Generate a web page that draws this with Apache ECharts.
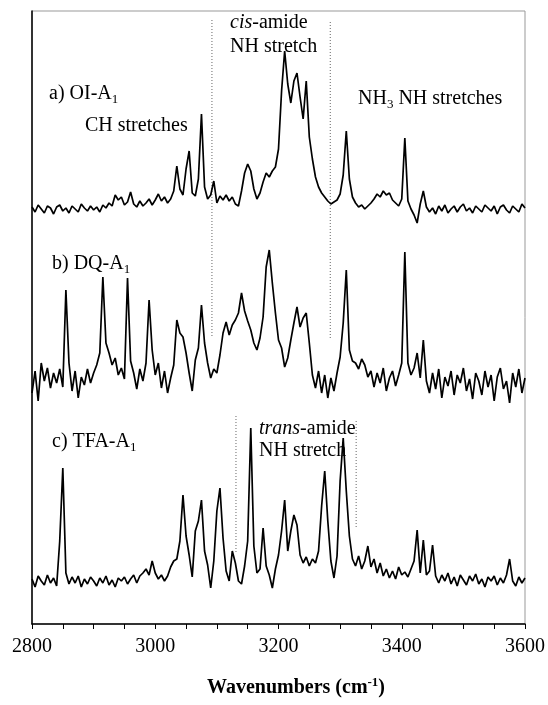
<!DOCTYPE html>
<html>
<head>
<meta charset="utf-8">
<script src="https://cdn.jsdelivr.net/npm/echarts@6/dist/echarts.min.js"></script>
<style>
  html, body { margin: 0; padding: 0; background: #fff; }
  #chart { width: 548px; height: 705px; }
</style>
</head>
<body>
<div id="chart"></div>
<script>
// spectra sampled every 5 cm-1 from 2800 to 3600
const wnStart = 2800;
const wnStep = 5;

// a) OI-A1, intensity above its own baseline (arb. units)
const oiA1 = [
  2, -3, 4, 0, -4, 3, 1, -5, 2, 4, -2, 1, -4, 3, 0, -3, 5, 1, -2, 3,
  -1, 2, -3, 4, 1, 6, 3, 14, 9, 12, 4, 7, 17, 5, 2, 8, 3, 6, 10, 4,
  9, 15, 8, 12, 6, 10, 18, 43, 20, 14, 40, 58, 16, 13, 30, 95, 22, 10, 14, 28,
  6, 13, 9, 14, 8, 12, 5, 3, 18, 36, 45, 38, 20, 10, 16, 27, 36, 32, 38, 42,
  60, 118, 158, 125, 106, 128, 136, 112, 90, 128, 72, 50, 32, 22, 16, 12, 8, 5, 7, 9,
  15, 34, 78, 30, 12, 6, 2, 4, 0, 3, 6, 10, 15, 12, 18, 14, 16, 9, 6, 3,
  10, 71, 8, 0, -6, -14, 5, 18, 2, -3, 1, -5, 3, -2, 4, -4, 0, 3, -3, 2,
  5, -2, 1, -4, 3, 0, -3, 4, 1, -2, 3, -5, 2, 4, -1, -4, 3, 0, -3, 5,
  1
];

// b) DQ-A1
const dqA1 = [
  -10, 12, -18, 20, 2, 15, -5, 10, 0, 14, -4, 93, 20, -8, 12, -15, 6, -2, 14, 0,
  10, 18, 30, 106, 40, 30, 18, 25, 8, 15, 4, 105, 22, 10, -6, 14, 2, 20, 83, 33,
  8, 20, -5, 12, -10, 5, 18, 63, 50, 46, 30, 10, -8, 23, 35, 78, 40, 20, 5, 14,
  10, 28, 50, 61, 48, 58, 63, 70, 90, 72, 62, 53, 40, 33, 45, 66, 116, 133, 100, 70,
  43, 35, 16, 25, 43, 60, 76, 56, 65, 70, 40, 8, -5, 12, -10, 8, -15, 5, -8, 10,
  26, 60, 113, 33, 22, 20, 14, 24, 18, 6, 12, -4, 10, 0, 15, -8, 5, 12, -3, 8,
  20, 131, 20, 8, 15, 30, 5, 43, 2, -10, 10, -6, 14, -15, 6, -3, 12, -12, 8, 0,
  15, -8, 4, -16, 10, 2, -12, 12, -4, 8, -18, 6, 15, -6, 2, -20, 10, -4, 14, -10,
  5
];

// c) TFA-A1
const tfaA1 = [
  2, -6, 5, 0, -4, 6, -2, 3, -5, 40, 113, 8, -3, 4, -2, 5, -6, 2, -3, 4,
  0, -5, 3, -2, 5, -4, 1, -6, 3, 0, 4, -3, 2, 6, -2, 5, 8, 12, 6, 20,
  8, 2, 6, 0, 5, 14, 20, 22, 40, 86, 45, 26, 4, 50, 60, 81, 30, 16, -7, 20,
  70, 93, 43, 10, 0, 30, 18, 0, -3, 15, 40, 153, 35, 8, 12, 53, 15, 6, -7, 12,
  26, 50, 81, 30, 50, 66, 56, 26, 18, 24, 15, 22, 18, 30, 75, 110, 60, 20, 3, 25,
  100, 143, 90, 45, 22, 15, 25, 12, 20, 35, 14, 22, 8, 18, 5, 12, 3, 10, 2, 14,
  6, 9, 4, 12, 20, 51, 8, 41, 6, 10, 36, 5, -2, 6, 0, 8, -3, 4, -5, 6,
  1, -4, 5, 0, 7, -3, 2, -6, 4, 0, 5, -4, 3, -2, 6, 22, 0, -5, 4, -2,
  3
];

// vertical offsets of the three traces
const offsets = [415, 241, 43];

// dotted region markers: [wavenumber, top, bottom]
const cisMarks = [[3092, 604, 287], [3284, 602, 286]];
const transMarks = [[3131, 208, 72], [3326, 203, 95]];

const xLabels = [2800, 3000, 3200, 3400, 3600];

const serif = "'Liberation Serif', 'Times New Roman', serif";

function trace(vals, off) {
  return vals.map((v, i) => [wnStart + i * wnStep, off + v]);
}

let chart = echarts.init(document.getElementById("chart"), null, { renderer: "canvas" });

let series = [oiA1, dqA1, tfaA1].map((vals, k) => ({
  type: "line",
  data: trace(vals, offsets[k]),
  showSymbol: false,
  silent: true,
  lineStyle: { color: "#000", width: 1.7 },
  z: 3
}));

cisMarks.concat(transMarks).forEach(m => {
  series.push({
    type: "line",
    data: [[m[0], m[1]], [m[0], m[2]]],
    showSymbol: false,
    silent: true,
    lineStyle: { color: "#666", width: 1, type: [1, 2] },
    z: 2
  });
});

const sub = { fontSize: 13, lineHeight: 12, verticalAlign: "bottom", fontFamily: serif, fill: "#000" };
const txt = { fontSize: 20, lineHeight: 24, fontFamily: serif, fill: "#000" };

function label(x, y, text) {
  return {
    type: "text",
    left: x,
    top: y,
    style: {
      text: text,
      rich: { n: txt, s: sub, i: Object.assign({}, txt, { fontStyle: "italic" }) },
      fill: "#000",
      fontFamily: serif,
      fontSize: 20
    }
  };
}

let options = {
  backgroundColor: "#fff",
  animation: false,
  grid: {
    left: 32,
    right: 20,
    top: 11,
    bottom: 81,
    show: true,
    borderColor: "#999",
    borderWidth: 1
  },
  xAxis: {
    type: "value",
    min: 2800,
    max: 3600,
    interval: 50,
    axisLine: { show: true, lineStyle: { color: "#000", width: 1.5 } },
    axisTick: { show: true, inside: false, length: 5, lineStyle: { color: "#000" } },
    axisLabel: {
      margin: 13,
      color: "#000",
      fontFamily: serif,
      fontSize: 20,
      showMinLabel: true,
      showMaxLabel: true,
      formatter: v => (xLabels.indexOf(v) >= 0 ? String(v) : "")
    },
    splitLine: { show: false }
  },
  yAxis: {
    type: "value",
    min: 0,
    max: 613,
    axisLine: { show: true, lineStyle: { color: "#000", width: 1.5 } },
    axisTick: { show: false },
    axisLabel: { show: false },
    splitLine: { show: false }
  },
  graphic: [
    label(49, 84, "{n|a) OI-A}{s|1}"),
    label(85, 116, "{n|CH stretches}"),
    label(230, 13, "{i|cis}{n|-amide}"),
    label(230, 37, "{n|NH stretch}"),
    label(358, 89, "{n|NH}{s|3}{n| NH stretches}"),
    label(52, 254, "{n|b) DQ-A}{s|1}"),
    label(52, 432, "{n|c) TFA-A}{s|1}"),
    label(259, 419, "{i|trans}{n|-amide}"),
    label(259, 441, "{n|NH stretch}"),
    {
      type: "text",
      left: 207,
      top: 676,
      style: {
        text: "{b|Wavenumbers (cm}{p|-1}{b|)}",
        rich: {
          b: { fontSize: 20, lineHeight: 24, fontWeight: "bold", fontFamily: serif, fill: "#000" },
          p: { fontSize: 13, lineHeight: 12, verticalAlign: "top", fontWeight: "bold", fontFamily: serif, fill: "#000" }
        }
      }
    }
  ],
  series: series
};

chart.setOption(options);
</script>
</body>
</html>
